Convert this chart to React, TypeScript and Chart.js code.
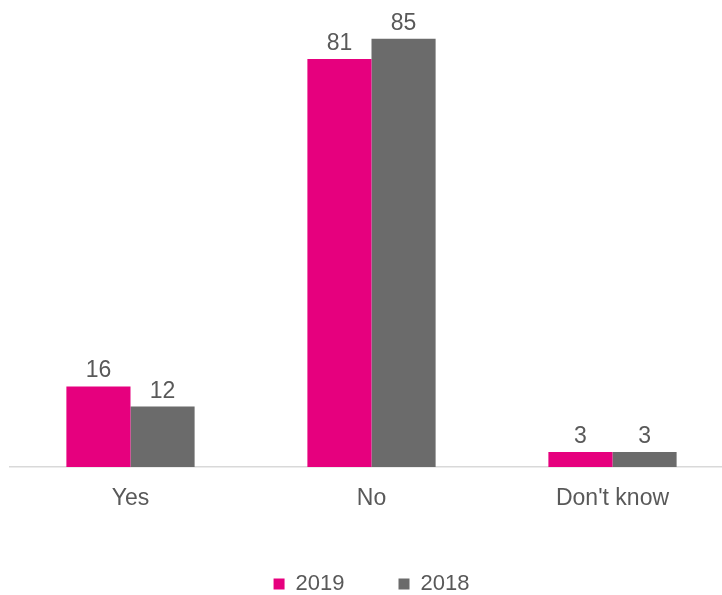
import React, { useEffect, useRef } from "react";
import { Chart, registerables } from "chart.js";

Chart.register(...registerables);

const categories = ["Yes", "No", "Don't know"];
const series2019 = [16, 81, 3];
const series2018 = [12, 85, 3];
const seriesNames = ["2019", "2018"];

const PINK = "#E6007E";
const GRAY = "#6B6B6B";
const TEXT = "#595959";
const FONT = "'Liberation Sans', Arial, sans-serif";

const dataLabels = {
  id: "dataLabels",
  afterDatasetsDraw(chart: any) {
    const ctx = chart.ctx;
    ctx.save();
    ctx.fillStyle = TEXT;
    ctx.font = `23px ${FONT}`;
    ctx.textAlign = "center";
    ctx.textBaseline = "alphabetic";
    chart.data.datasets.forEach((ds: any, i: number) => {
      const meta = chart.getDatasetMeta(i);
      meta.data.forEach((bar: any, j: number) => {
        ctx.fillText(String(ds.data[j]), bar.x, bar.y - 9);
      });
    });
    ctx.restore();
  },
};

export default function App() {
  const ref = useRef<HTMLCanvasElement>(null);
  useEffect(() => {
    document.documentElement.style.overflow = "hidden";
    document.body.style.margin = "0";
    document.body.style.overflow = "hidden";
    const chart = new Chart(ref.current!, {
      type: "bar",
      data: {
        labels: categories,
        datasets: [
          { label: seriesNames[0], data: series2019, backgroundColor: PINK },
          { label: seriesNames[1], data: series2018, backgroundColor: GRAY },
        ],
      },
      options: {
        animation: false,
        responsive: true,
        maintainAspectRatio: false,
        layout: { padding: { left: 10, right: 0, top: 0, bottom: -10 } },
        datasets: { bar: { categoryPercentage: 0.532, barPercentage: 1 } },
        scales: {
          x: {
            grid: { display: false, drawTicks: false },
            border: { color: "#d9d9d9", width: 1.5 },
            ticks: { color: TEXT, font: { family: FONT, size: 23 }, padding: 18 },
            afterFit: (s: any) => {
              s.height = 52;
            },
          },
          y: { display: false, min: 0, max: 92.7 },
        },
        plugins: {
          tooltip: { enabled: false },
          legend: {
            position: "bottom",
            labels: {
              color: TEXT,
              font: { family: FONT, size: 22 },
              boxWidth: 11,
              boxHeight: 11,
              padding: 54,
            },
          },
        },
      },
      plugins: [dataLabels],
    });
    return () => chart.destroy();
  }, []);
  return (
    <div style={{ width: 733, height: 595, position: "relative" }}>
      <canvas ref={ref} />
    </div>
  );
}
